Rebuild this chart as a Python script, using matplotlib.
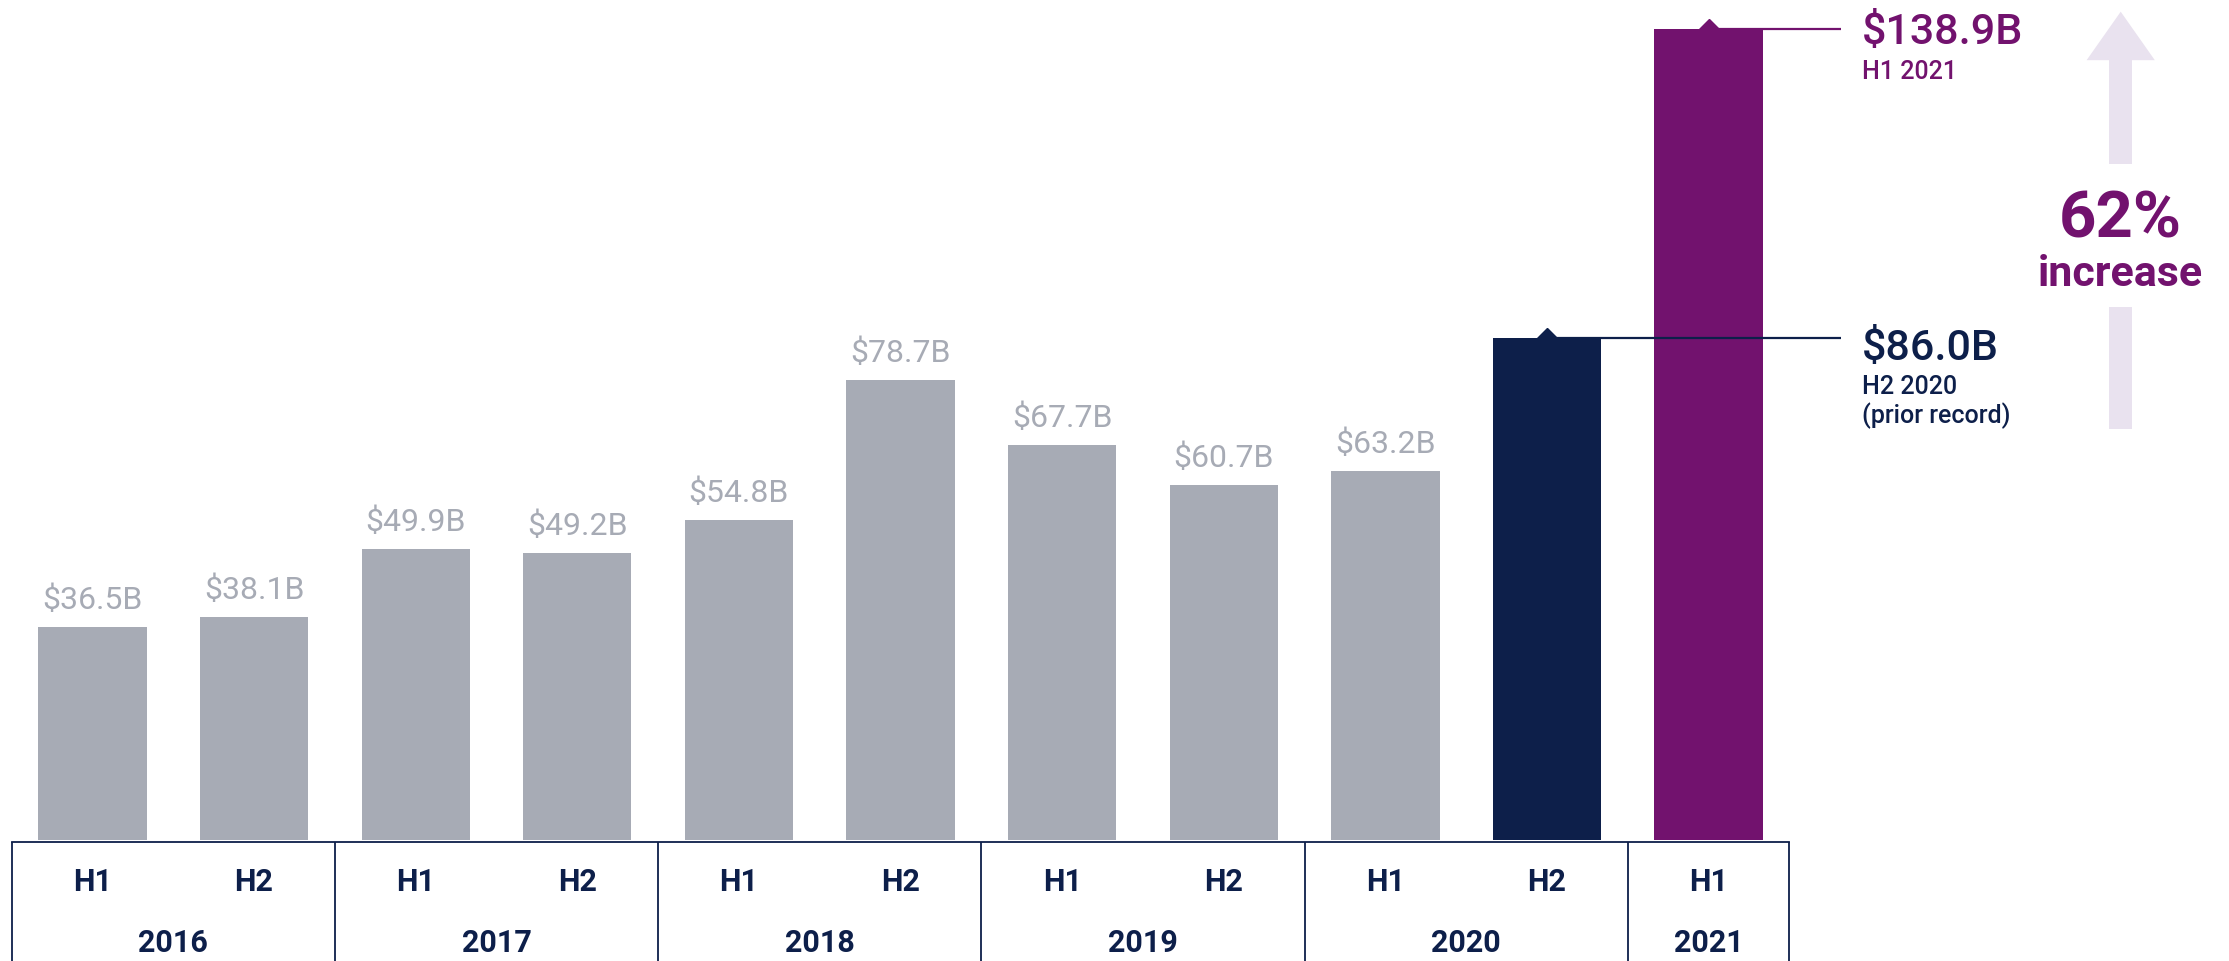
import numpy as np
import matplotlib.pyplot as plt
from matplotlib.patches import Polygon, Rectangle

plt.rcParams['font.family'] = ['Roboto', 'DejaVu Sans']

halves = ['H1', 'H2', 'H1', 'H2', 'H1', 'H2', 'H1', 'H2', 'H1', 'H2', 'H1']
bar_years = ['2016', '2016', '2017', '2017', '2018', '2018',
             '2019', '2019', '2020', '2020', '2021']
values = [36.5, 38.1, 49.9, 49.2, 54.8, 78.7, 67.7, 60.7, 63.2, 86.0, 138.9]

GRAY = '#A7ABB5'
NAVY = '#0D1F4A'
PURPLE = '#72126E'
LAVENDER = '#E9E2EF'

colors = [GRAY] * 9 + [NAVY, PURPLE]
x = np.arange(len(values))

fig = plt.figure(figsize=(22.29, 9.61), dpi=100)
ax = fig.add_axes([0, 0, 1, 1])
ax.axis('off')
ax.set_xlim(-0.572, 13.22)
ax.set_ylim(-20.7, 143.8)

ax.bar(x, values, width=0.67, color=colors, zorder=2)

# value labels on the grey bars
for xi, v in zip(x[:9], values[:9]):
    ax.annotate(r'\$%.1fB' % v, (xi, v), xytext=(0, 13), textcoords='offset points',
                ha='center', va='baseline', fontsize=23, color=GRAY)

# leader lines for the two highlighted bars
line_end = 10.82
text_x = 10.95
for idx, c in ((9, NAVY), (10, PURPLE)):
    v = values[idx]
    ax.plot([x[idx], line_end], [v, v], color=c, lw=1.6, zorder=4, solid_capstyle='butt')
    ax.plot(x[idx], v, marker='D', ms=10, color=c, mec=c, zorder=4)

ax.text(text_x, 136.3, r'\$%.1fB' % values[10], fontsize=31, fontweight='medium',
        color=PURPLE, va='baseline')
ax.text(text_x, 130.3, '%s %s' % (halves[10], bar_years[10]), fontsize=18,
        fontweight='medium', color=PURPLE, va='baseline')
ax.text(text_x, 82.2, r'\$%.1fB' % values[9], fontsize=31, fontweight='medium',
        color=NAVY, va='baseline')
ax.text(text_x, 76.4, '%s %s' % (halves[9], bar_years[9]), fontsize=18,
        fontweight='medium', color=NAVY, va='baseline')
ax.text(text_x, 71.4, '(prior record)', fontsize=18, fontweight='medium',
        color=NAVY, va='baseline')

# increase arrow
pct = (values[10] / values[9] - 1) * 100
xc, hw, sw = 12.55, 0.211, 0.07
ax.add_patch(Polygon([(xc - hw, 133.5), (xc, 141.8), (xc + hw, 133.5)],
                     closed=True, color=LAVENDER, lw=0))
ax.add_patch(Rectangle((xc - sw, 115.7), 2 * sw, 133.5 - 115.7, color=LAVENDER, lw=0))
ax.add_patch(Rectangle((xc - sw, 70.3), 2 * sw, 91.2 - 70.3, color=LAVENDER, lw=0))
ax.text(xc, 103.2, '%d%%' % round(pct), fontsize=47, fontweight='bold',
        color=PURPLE, ha='center', va='baseline')
ax.text(xc, 94.9, 'increase', fontsize=31, fontweight='bold',
        color=PURPLE, ha='center', va='baseline')

# category table below the bars
ax.plot([-0.5, 10.5], [-0.25, -0.25], color=NAVY, lw=1.3, zorder=3)
for xi, h in zip(x, halves):
    ax.text(xi, -8.8, h, fontsize=22, fontweight='bold', color=NAVY,
            ha='center', va='baseline')
uniq_years = list(dict.fromkeys(bar_years))
bounds = []
for yr in uniq_years:
    idx = [i for i, b in enumerate(bar_years) if b == yr]
    bounds.append(idx[0] - 0.5)
    ax.text(np.mean(idx), -19.2, yr, fontsize=22, fontweight='bold', color=NAVY,
            ha='center', va='baseline')
bounds.append(len(values) - 0.5)
ax.vlines(bounds, -21, -0.25, color=NAVY, lw=1.3)

fig.savefig('out.png', dpi=100)
